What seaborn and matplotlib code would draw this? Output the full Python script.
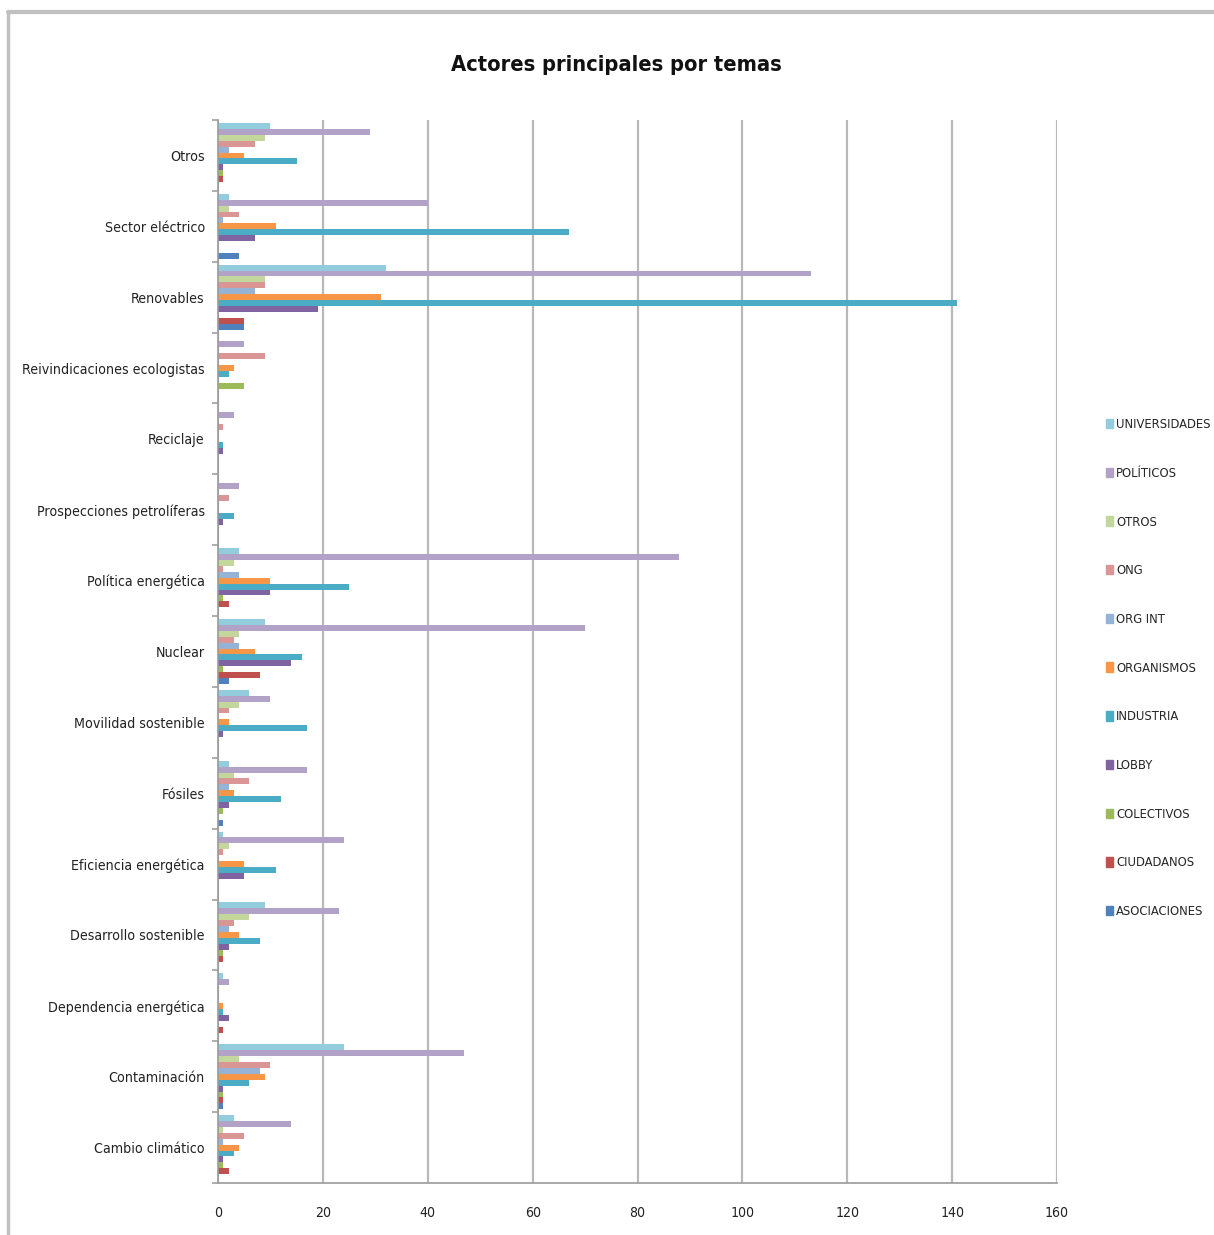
import matplotlib
matplotlib.use("Agg")
import matplotlib.pyplot as plt
from matplotlib.lines import Line2D
from matplotlib.ticker import FixedLocator
from matplotlib.font_manager import FontProperties, findfont
import seaborn as sns
import pandas as pd

# categories, top to bottom
temas = ["Otros", "Sector eléctrico", "Renovables", "Reivindicaciones ecologistas",
         "Reciclaje", "Prospecciones petrolíferas", "Política energética", "Nuclear",
         "Movilidad sostenible", "Fósiles", "Eficiencia energética", "Desarrollo sostenible",
         "Dependencia energética", "Contaminación", "Cambio climático"]

actores = ["UNIVERSIDADES", "POLÍTICOS", "OTROS", "ONG", "ORG INT", "ORGANISMOS",
           "INDUSTRIA", "LOBBY", "COLECTIVOS", "CIUDADANOS", "ASOCIACIONES"]

# one list per actor, values in the order of `temas`
universidades = [10, 2, 32, 0, 0, 0, 4, 9, 6, 2, 1, 9, 1, 24, 3]
politicos     = [29, 40, 113, 5, 3, 4, 88, 70, 10, 17, 24, 23, 2, 47, 14]
otros         = [9, 2, 9, 0, 0, 0, 3, 4, 4, 3, 2, 6, 0, 4, 1]
ong           = [7, 4, 9, 9, 1, 2, 1, 3, 2, 6, 1, 3, 0, 10, 5]
org_int       = [2, 1, 7, 0, 0, 0, 4, 4, 0, 2, 0, 2, 0, 8, 1]
organismos    = [5, 11, 31, 3, 0, 0, 10, 7, 2, 3, 5, 4, 1, 9, 4]
industria     = [15, 67, 141, 2, 1, 3, 25, 16, 17, 12, 11, 8, 1, 6, 3]
lobby         = [1, 7, 19, 0, 1, 1, 10, 14, 1, 2, 5, 2, 2, 1, 1]
colectivos    = [1, 0, 0, 5, 0, 0, 1, 1, 0, 1, 0, 1, 0, 1, 1]
ciudadanos    = [1, 0, 5, 0, 0, 0, 2, 8, 0, 0, 0, 1, 1, 1, 2]
asociaciones  = [0, 4, 5, 0, 0, 0, 0, 2, 0, 1, 0, 0, 0, 1, 0]

series = [universidades, politicos, otros, ong, org_int, organismos,
          industria, lobby, colectivos, ciudadanos, asociaciones]

colores = ["#93CDDD", "#B3A2C7", "#C3D69B", "#D99694", "#95B3D7", "#F79646",
           "#4BACC6", "#8064A2", "#9BBB59", "#C0504D", "#4F81BD"]

rows = []
for actor, vals in zip(actores, series):
    for tema, v in zip(temas, vals):
        rows.append({"tema": tema, "actor": actor, "n": v})
df = pd.DataFrame(rows)

sns.set_theme(style="white")

# use a condensed face if the system has one
cond = FontProperties(family="DejaVu Sans", stretch="condensed")
if "Condensed" in findfont(cond, fallback_to_default=False):
    FAMILY, STRETCH = ["DejaVu Sans"], "condensed"
else:
    FAMILY, STRETCH = ["Liberation Sans", "DejaVu Sans"], "normal"
plt.rcParams["font.family"] = FAMILY
plt.rcParams["font.stretch"] = STRETCH

fig = plt.figure(figsize=(12.14, 12.35), dpi=100)
renderer = fig.canvas.get_renderer()


def measure(text, size, weight="normal"):
    prop = FontProperties(family=FAMILY, stretch=STRETCH, weight=weight, size=size)
    return renderer.get_text_width_height_descent(text, prop, ismath=False)


def fit_size(text, target_px, weight="normal", max_size=30):
    # font size (pt) so that `text` is about target_px wide
    w, h, d = measure(text, 10, weight)
    return min(max_size, 10 * target_px / w)


ylab_size = fit_size("Reivindicaciones ecologistas", 182, max_size=13)
xlab_size = fit_size("160", 24, max_size=11.5)
leg_size = fit_size("UNIVERSIDADES", 95, max_size=12.5)
title_size = fit_size("Actores principales por temas", 330, weight="bold", max_size=22)

ax = fig.add_axes([0.1796, 0.0421, 0.6911, 0.8607])

sns.barplot(data=df, x="n", y="tema", hue="actor", order=temas, hue_order=actores,
            palette=colores, orient="h", width=0.92, gap=0, ax=ax, saturation=1,
            edgecolor="none", linewidth=0)

ax.set_xlim(0, 160)
ax.set_ylim(len(temas) - 0.5, -0.5)
ax.set_xticks(range(0, 161, 20))
ax.xaxis.grid(True, color="#b8b8b8", linewidth=1.6)
ax.set_axisbelow(True)
ax.set_xlabel("")
ax.set_ylabel("")

for side in ["top", "right"]:
    ax.spines[side].set_visible(False)
for side in ["left", "bottom"]:
    ax.spines[side].set_color("#9a9a9a")
    ax.spines[side].set_linewidth(1.2)

ax.tick_params(axis="x", direction="inout", length=9, color="#9a9a9a",
               labelsize=xlab_size, pad=12, labelcolor="#222222")
ax.tick_params(axis="y", which="major", length=0, labelsize=ylab_size, pad=9.5,
               labelcolor="#222222")
ax.yaxis.set_minor_locator(FixedLocator([i - 0.5 for i in range(len(temas) + 1)]))
ax.tick_params(axis="y", which="minor", left=True, length=4, width=1.5,
               color="#b0b0b0", direction="out")

ax.legend_.remove()
fs_px = leg_size * 100 / 72
_, th, _ = measure("ÍUNIVERSIDADESg", leg_size)
spacing = max(0.5, (50.2 - th) / fs_px)
handles = [plt.Rectangle((0, 0), 1, 1, color=c) for c in colores]
fig.legend(handles, actores, loc="center left", bbox_to_anchor=(0.907, 0.459),
           frameon=False, fontsize=leg_size, labelspacing=spacing, handlelength=0.55,
           handleheight=0.75, handletextpad=0.2, borderaxespad=0)

fig.text(0.508, 0.947, "Actores principales por temas", ha="center", va="center",
         fontsize=title_size, fontweight="bold", color="#111111")

# chart frame (left and top edges)
fig.add_artist(Line2D([0.0066, 0.0066], [0.0, 0.9905], color="#c0c0c0", linewidth=2.5,
                      transform=fig.transFigure))
fig.add_artist(Line2D([0.0066, 1.0], [0.9905, 0.9905], color="#c0c0c0", linewidth=3,
                      transform=fig.transFigure))

fig.savefig("out.png", dpi=100, facecolor="white")
